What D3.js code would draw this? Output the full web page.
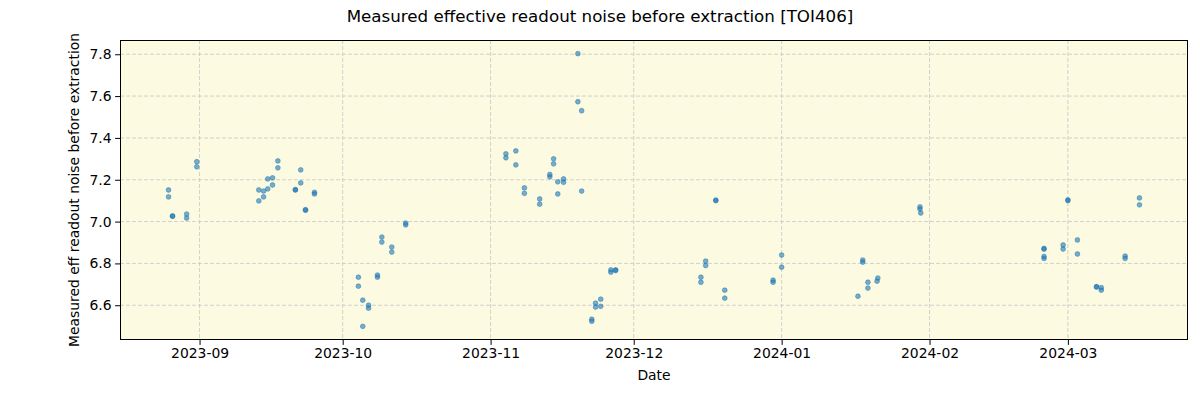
<!DOCTYPE html>
<html><head><meta charset="utf-8">
<script src="https://cdn.jsdelivr.net/npm/d3@7"></script>
<style>body{margin:0;background:#fff}svg{display:block}text{font-family:"DejaVu Sans",sans-serif;fill:#000}</style>
</head><body><svg id="c" width="1200" height="400"></svg>
<script>
const title = "Measured effective readout noise before extraction [TOI406]";
const xLabel = "Date";
const yLabel = "Measured eff readout noise before extraction";
const dates = [
 "2023-08-25 12:00","2023-08-25 12:00","2023-08-26 08:00","2023-08-26 08:00","2023-08-29 07:00","2023-08-29 07:00","2023-08-31 10:00","2023-08-31 10:00",
 "2023-09-13 10:00","2023-09-13 10:00","2023-09-14 10:00","2023-09-14 10:00","2023-09-15 07:00","2023-09-15 07:00","2023-09-16 07:00","2023-09-16 07:00",
 "2023-09-17 10:00","2023-09-17 10:00","2023-09-21 02:00","2023-09-21 02:00","2023-09-22 05:00","2023-09-22 05:00","2023-09-23 05:00","2023-09-23 05:00",
 "2023-09-25 02:00","2023-09-25 02:00",
 "2023-10-04 07:00","2023-10-04 07:00","2023-10-05 05:00","2023-10-05 05:00","2023-10-06 10:00","2023-10-06 10:00","2023-10-08 07:00","2023-10-08 07:00",
 "2023-10-09 05:00","2023-10-09 05:00","2023-10-11 07:00","2023-10-11 07:00","2023-10-14 05:00","2023-10-14 05:00",
 "2023-11-04 05:00","2023-11-04 05:00","2023-11-06 07:00","2023-11-06 07:00","2023-11-08 02:00","2023-11-08 02:00","2023-11-11 07:00","2023-11-11 07:00",
 "2023-11-13 10:00","2023-11-13 10:00","2023-11-14 05:00","2023-11-14 05:00","2023-11-15 02:00","2023-11-15 02:00","2023-11-16 07:00","2023-11-16 07:00",
 "2023-11-19 07:00","2023-11-19 07:00","2023-11-20 02:00","2023-11-20 02:00","2023-11-22 05:00","2023-11-22 05:00","2023-11-23 00:00","2023-11-23 00:00",
 "2023-11-24 02:00","2023-11-24 02:00","2023-11-26 05:00","2023-11-26 05:00","2023-11-27 05:00","2023-11-27 05:00",
 "2023-12-15 02:00","2023-12-15 02:00","2023-12-16 02:00","2023-12-16 02:00","2023-12-18 05:00","2023-12-18 05:00","2023-12-20 02:00","2023-12-20 02:00",
 "2023-12-30 05:00","2023-12-30 05:00","2024-01-01 00:00","2024-01-01 00:00",
 "2024-01-17 00:00","2024-01-18 00:00","2024-01-18 00:00","2024-01-19 02:00","2024-01-19 02:00","2024-01-21 00:00","2024-01-21 04:00",
 "2024-01-30 00:00","2024-01-30 00:00","2024-01-30 04:00",
 "2024-02-25 00:00","2024-02-25 00:00","2024-02-25 00:00","2024-02-25 00:00","2024-02-29 00:00","2024-02-29 00:00","2024-03-01 00:00","2024-03-01 00:00",
 "2024-03-03 00:00","2024-03-03 00:00","2024-03-07 00:00","2024-03-07 00:00","2024-03-08 00:00","2024-03-08 00:00","2024-03-13 00:00","2024-03-13 00:00",
 "2024-03-16 00:00","2024-03-16 00:00"
];
const noise = [
 7.151,7.118,7.025,7.027,7.036,7.017,7.286,7.262,
 7.151,7.099,7.146,7.118,7.156,7.204,7.209,7.175,
 7.290,7.257,7.151,7.153,7.247,7.185,7.054,7.057,
 7.140,7.132,
 6.734,6.691,6.624,6.499,6.600,6.586,6.744,6.734,
 6.926,6.902,6.878,6.854,6.993,6.984,
 7.324,7.305,7.338,7.271,7.161,7.135,7.108,7.083,
 7.225,7.214,7.300,7.276,7.190,7.132,7.204,7.188,
 7.803,7.573,7.530,7.146,6.533,6.523,6.610,6.591,
 6.629,6.595,6.769,6.758,6.769,6.766,
 6.734,6.710,6.811,6.790,7.103,7.100,6.672,6.634,
 6.720,6.710,6.840,6.782,
 6.643,6.816,6.806,6.710,6.682,6.715,6.730,
 7.070,7.060,7.041,
 6.872,6.868,6.833,6.824,6.888,6.869,7.100,7.104,
 6.912,6.845,6.689,6.687,6.684,6.672,6.835,6.824,
 7.113,7.080
];
const yTicks = [6.6,6.8,7.0,7.2,7.4,7.6,7.8];
const xTicks = ["2023-09-01","2023-10-01","2023-11-01","2023-12-01","2024-01-01","2024-02-01","2024-03-01"];

const parse = d3.timeParse("%Y-%m-%d %H:%M");
const parseDay = d3.timeParse("%Y-%m-%d");
const pts = dates.map((d,i)=>({t:parse(d), v:noise[i]}));

const m = {l:120, r:1188, t:40, b:340};
const svg = d3.select("#c");
const tExt = d3.extent(pts, d=>d.t), vExt = d3.extent(pts, d=>d.v);
const tPad = (tExt[1]-tExt[0])*0.05, vPad = (vExt[1]-vExt[0])*0.05;
const x = d3.scaleTime().domain([new Date(+tExt[0]-tPad), new Date(+tExt[1]+tPad)]).range([m.l, m.r]);
const y = d3.scaleLinear().domain([vExt[0]-vPad, vExt[1]+vPad]).range([m.b, m.t]);

svg.append("rect").attr("x",m.l).attr("y",m.t).attr("width",m.r-m.l).attr("height",m.b-m.t).attr("fill","#fcfbe1");

const g = svg.append("g");
g.selectAll(".gx").data(xTicks.map(parseDay)).join("line")
 .attr("x1",d=>x(d)).attr("x2",d=>x(d)).attr("y1",m.t).attr("y2",m.b)
 .attr("stroke","#cccccc").attr("stroke-width",0.9).attr("stroke-dasharray","4,2");
g.selectAll(".gy").data(yTicks).join("line")
 .attr("x1",m.l).attr("x2",m.r).attr("y1",d=>y(d)).attr("y2",d=>y(d))
 .attr("stroke","#cccccc").attr("stroke-width",0.9).attr("stroke-dasharray","4,2");

svg.append("g").selectAll("circle").data(pts).join("circle")
 .attr("cx",d=>x(d.t)).attr("cy",d=>y(d.v)).attr("r",2.4)
 .attr("fill","#1f77b4").attr("fill-opacity",0.6)
 .attr("stroke","#1f77b4").attr("stroke-opacity",0.6).attr("stroke-width",0.8);

const xa = svg.append("g").attr("transform",`translate(0,${m.b})`)
 .call(d3.axisBottom(x).tickValues(xTicks.map(parseDay)).tickFormat(d3.timeFormat("%Y-%m")).tickSizeOuter(0).tickSize(4.9).tickPadding(3.5));
const ya = svg.append("g").attr("transform",`translate(${m.l},0)`)
 .call(d3.axisLeft(y).tickValues(yTicks).tickFormat(d3.format(".1f")).tickSizeOuter(0).tickSize(4.9).tickPadding(3.5));
[xa,ya].forEach(a=>{a.select(".domain").remove();a.selectAll("text").attr("font-size","13.9px").attr("font-family","DejaVu Sans");a.selectAll("line").attr("stroke","#000").attr("stroke-width",1);});

svg.append("rect").attr("x",m.l+0.5).attr("y",m.t+0.5).attr("width",m.r-m.l-1).attr("height",m.b-m.t-1)
 .attr("fill","none").attr("stroke","#000").attr("stroke-width",1);

svg.append("text").attr("x",600).attr("y",22).attr("text-anchor","middle").attr("font-size","16.7px").text(title);
svg.append("text").attr("x",(m.l+m.r)/2).attr("y",380).attr("text-anchor","middle").attr("font-size","13.9px").text(xLabel);
svg.append("text").attr("transform",`translate(79,${(m.t+m.b)/2}) rotate(-90)`).attr("text-anchor","middle").attr("font-size","13.9px").text(yLabel);
</script></body></html>
